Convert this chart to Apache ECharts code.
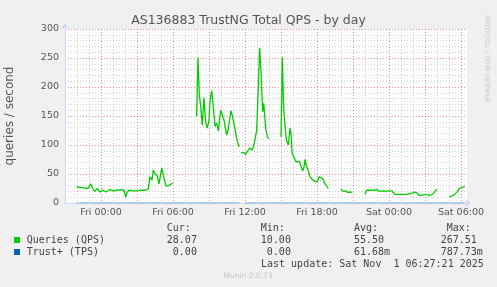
<!DOCTYPE html>
<html><head><meta charset="utf-8">
<script src="https://cdn.jsdelivr.net/npm/echarts@6/dist/echarts.min.js"></script>
<style>html,body{margin:0;padding:0;background:#f0f0f0}#c{width:497px;height:287px}</style>
</head><body><div id="c"></div>
<script>
// hours relative to Fri 00:00; null = no data (gap)
const qpsHours = [
 -2.03,-1.75,-1.42,-1.08,-0.86,-0.67,-0.5,-0.33,-0.08,0.17,0.42,0.75,1.0,1.33,1.67,1.92,2.06,2.17,2.33,2.67,3.0,3.33,3.67,3.94,4.08,4.25,4.36,4.5,4.67,4.83,5.06,5.19,5.42,5.61,5.97,
 7.0,
 7.97,8.08,8.19,8.31,8.44,8.58,8.72,8.86,9.0,9.08,9.22,9.36,9.5,9.64,9.78,9.97,10.11,10.25,10.47,10.61,10.83,10.97,11.17,11.31,11.5,
 11.58,
 11.67,11.86,12.03,12.19,12.42,12.56,12.69,12.83,12.97,13.11,13.22,13.33,13.47,13.56,13.72,13.86,13.97,
 14.5,
 15.0,15.11,15.22,15.33,15.45,15.61,15.75,15.86,15.92,16.08,16.25,16.39,16.53,16.67,16.81,16.92,17.0,17.14,17.28,17.42,17.64,17.83,18.03,18.17,18.33,18.47,18.67,18.94,
 19.5,
 20.0,20.19,20.39,20.56,20.75,20.94,
 21.5,
 22.0,22.14,22.28,22.42,22.56,22.69,22.83,22.97,23.11,23.25,23.39,23.53,23.61,23.75,23.94,24.08,24.22,24.36,24.5,24.64,24.92,25.19,25.47,25.75,25.94,26.17,26.36,26.53,26.72,26.86,27.0,27.19,27.42,27.56,27.69,27.83,27.97,
 28.5,
 29.03,29.22,29.42,29.58,29.72,29.86,30.06,30.19,30.33
];
const qpsValues = [
 28,27,26,25,33,24,20,25,19,22,19,23,21,22,23,22,10,18,22,21,21,22,22,24,45,40,57,50,48,33,60,48,29,30,34,
 null,
 149,251,188,166,134,182,140,129,143,175,194,166,132,138,124,160,159,143,117,128,159,148,128,111,97,
 null,
 87,87,84,89,95,91,96,109,125,200,267.5,229,157,172,129,114,111,
 null,
 114,251,164,135,109,100,129,115,86,86,71,70,72,63,55,62,75,63,55,45,40,37,37,45,48,42,33,25,
 null,
 24,20,21,18,19,18,
 null,
 15,22,21,22,20,22,21,23,25,20,19,21,23,20,21,20,21,19,15,15,15,15,15,16,17,19,17,13,13,15,15,14,13,13,16,20,24,
 null,
 10,12,14,17,20,25,27,26,28.07
];
const tpsHours = [-2.03, 11.55, 11.6, 12.0, 30.33];
const tpsValues = [0, 0, null, 0, 0];

const xTickHours = [0, 6, 12, 18, 24, 30];
const xTickLabels = ['Fri 00:00','Fri 06:00','Fri 12:00','Fri 18:00','Sat 00:00','Sat 06:00'];

const legendNames = ['Queries (QPS)', 'Trust+ (TPS)'];
const legendColors = ['#00cc00', '#0066b3'];
const legendCur = ['28.07', '0.00'];
const legendMin = ['10.00', '0.00'];
const legendAvg = ['55.50', '61.68m'];
const legendMax = ['267.51', '787.73m'];
const legendHeaders = ['Cur:', 'Min:', 'Avg:', 'Max:'];
const lastUpdate = 'Last update: Sat Nov  1 06:27:21 2025';

const toData = (hs, vs) => hs.map((h, i) => [h, vs[i] === null ? '-' : vs[i]]);

const mono = 'DejaVu Sans Mono';
const txt = (x, y, s, align, extra) => Object.assign({
  type: 'text', x: x, y: y,
  style: { text: s, fill: '#444', font: '10px "' + mono + '"', textAlign: align || 'left', textVerticalAlign: 'middle' }
}, extra || {});

const graphics = [];
const hdrX = [166.7, 260.7, 354, 446.7];
legendHeaders.forEach((h, i) => graphics.push(txt(hdrX[i], 228.5, h)));
legendNames.forEach((n, i) => {
  const y = 240 + i * 12;
  graphics.push({ type: 'rect', shape: { x: 14, y: y - 3, width: 6, height: 6 }, style: { fill: legendColors[i] } });
  graphics.push(txt(26.7, y, n));
  graphics.push(txt(196.9, y, legendCur[i], 'right'));
  graphics.push(txt(290.9, y, legendMin[i], 'right'));
  graphics.push(txt(354, y, legendAvg[i]));
  graphics.push(txt(440.7, y, legendMax[i]));
});
graphics.push(txt(261, 264, lastUpdate));
graphics.push({ type: 'text', x: 248, y: 276.5, style: { text: 'Munin 2.0.73', fill: '#c4c4c4', font: '7.5px "DejaVu Sans"', textAlign: 'center', textVerticalAlign: 'middle' } });
graphics.push({ type: 'text', x: 487, y: 15, rotation: -Math.PI / 2, style: { text: 'RRDTOOL / TOBI OETIKER', fill: '#c8c8c8', font: '6.8px "DejaVu Sans"', textAlign: 'left', textVerticalAlign: 'middle' } });

const minorStyle = { color: 'rgba(150,150,150,0.45)', width: 1, type: [1, 2] };
const majorStyle = { color: 'rgba(255,0,0,0.45)', width: 1, type: [1, 2] };
const axisColor = '#cfd6f8';
const labelStyle = { color: '#555', fontSize: 9.5, fontFamily: 'DejaVu Sans' };

const chart = echarts.init(document.getElementById('c'), null, { renderer: 'canvas' });
chart.setOption({
  animation: false,
  backgroundColor: '#f0f0f0',
  title: { text: 'AS136883 TrustNG Total QPS - by day', left: 'center', top: 9,
    textStyle: { color: '#555', fontSize: 12.5, fontWeight: 'normal', fontFamily: 'DejaVu Sans' } },
  grid: { left: 65, right: 30, top: 29, bottom: 84, show: true, backgroundColor: '#ffffff', borderWidth: 0,
    containLabel: false, outerBoundsMode: 'none' },
  xAxis: {
    type: 'value', min: -3, max: 30.5, interval: 3,
    axisLine: { show: true, onZero: false, lineStyle: { color: axisColor, width: 1 }, symbol: ['none', 'arrow'], symbolSize: [6, 6], symbolOffset: [0, 4] },
    axisTick: { show: false },
    axisLabel: Object.assign({ margin: 5, showMinLabel: false, showMaxLabel: false,
      formatter: v => { const i = xTickHours.indexOf(Math.round(v * 100) / 100); return i >= 0 ? xTickLabels[i] : ''; } }, labelStyle),
    splitLine: { show: true, showMinLine: false, showMaxLine: false, lineStyle: majorStyle },
    minorTick: { show: false, splitNumber: 3 },
    minorSplitLine: { show: true, lineStyle: minorStyle }
  },
  yAxis: {
    type: 'value', min: 0, max: 300, interval: 50,
    name: 'queries / second', nameLocation: 'middle', nameGap: 49,
    nameTextStyle: { color: '#555', fontSize: 12, fontFamily: 'DejaVu Sans' },
    axisLine: { show: true, onZero: false, lineStyle: { color: axisColor, width: 1 }, symbol: ['none', 'arrow'], symbolSize: [6, 6], symbolOffset: [0, 6] },
    axisTick: { show: false },
    axisLabel: Object.assign({ margin: 6 }, labelStyle),
    splitLine: { show: true, showMinLine: false, lineStyle: majorStyle },
    minorTick: { show: false, splitNumber: 5 },
    minorSplitLine: { show: true, lineStyle: minorStyle }
  },
  series: [
    { name: 'Queries (QPS)', type: 'line', data: toData(qpsHours, qpsValues), showSymbol: false, connectNulls: false,
      lineStyle: { color: legendColors[0], width: 1.3 }, itemStyle: { color: legendColors[0] }, z: 3 },
    { name: 'Trust+ (TPS)', type: 'line', data: toData(tpsHours, tpsValues), showSymbol: false, connectNulls: false,
      lineStyle: { color: legendColors[1], width: 1, opacity: 0.6 }, itemStyle: { color: legendColors[1] }, z: 2 }
  ],
  graphic: graphics
});
</script></body></html>
